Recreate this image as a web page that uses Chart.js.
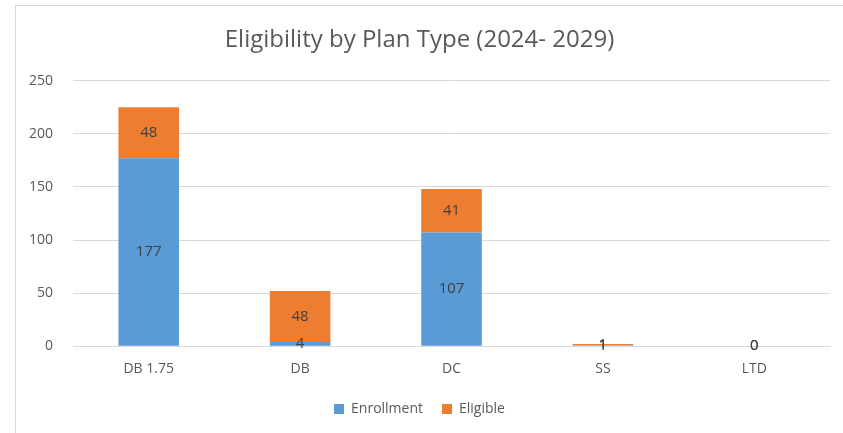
<!DOCTYPE html>
<html>
<head>
<meta charset="utf-8">
<script src="https://cdn.jsdelivr.net/npm/chart.js@4"></script>
<style>
  html, body { margin: 0; padding: 0; background: #fff; }
  #frame {
    position: absolute; left: 15px; top: 5px; width: 840px; height: 440px;
    border: 1px solid #d9d9d9; box-sizing: border-box;
  }
  #wrap { position: absolute; left: 0; top: 0; width: 843px; height: 433px; }
</style>
</head>
<body>
<div id="frame"></div>
<div id="wrap"><canvas id="chart"></canvas></div>
<script>
// Datos del gráfico
const categorias = ['DB 1.75', 'DB', 'DC', 'SS', 'LTD'];
const enrollment = [177, 4, 107, 1, 0];
const eligible = [48, 48, 41, 1, 0];

// etiquetas en el centro de cada segmento
const etiquetasPlugin = {
    id: 'etiquetas',
    afterDatasetsDraw(chart) {
        const ctx = chart.ctx;
        ctx.save();
        ctx.fillStyle = '#404040';
        ctx.font = '15px "Open Sans", sans-serif';
        ctx.textAlign = 'center';
        ctx.textBaseline = 'middle';
        chart.data.datasets.forEach((ds, i) => {
            const meta = chart.getDatasetMeta(i);
            meta.data.forEach((bar, j) => {
                const y = (bar.y + bar.base) / 2;
                ctx.fillText(String(ds.data[j]), bar.x, y);
            });
        });
        ctx.restore();
    }
};

const ctx = document.getElementById('chart').getContext('2d');
new Chart(ctx, {
    type: 'bar',
    data: {
        labels: categorias,
        datasets: [
            {
                label: 'Enrollment',
                data: enrollment,
                backgroundColor: '#5B9BD5',
                categoryPercentage: 1,
                barPercentage: 0.4
            },
            {
                label: 'Eligible',
                data: eligible,
                backgroundColor: '#ED7D31',
                categoryPercentage: 1,
                barPercentage: 0.4
            }
        ]
    },
    options: {
        responsive: true,
        maintainAspectRatio: false,
        animation: false,
        layout: { padding: { left: 9, right: 13, top: 14, bottom: 7 } },
        plugins: {
            title: {
                display: true,
                text: 'Eligibility by Plan Type (2024- 2029)',
                color: '#595959',
                font: { family: '"Open Sans", sans-serif', size: 24, weight: 'normal' },
                padding: { top: 12, bottom: 26 }
            },
            legend: {
                position: 'bottom',
                labels: {
                    color: '#595959',
                    font: { family: '"Open Sans", sans-serif', size: 14 },
                    boxWidth: 10,
                    boxHeight: 10,
                    padding: 19
                }
            },
            tooltip: { enabled: false }
        },
        scales: {
            x: {
                stacked: true,
                grid: { display: false },
                border: { color: '#d9d9d9' },
                ticks: {
                    color: '#595959',
                    font: { family: '"Open Sans", sans-serif', size: 14 },
                    padding: 6
                }
            },
            y: {
                stacked: true,
                min: 0,
                max: 250,
                grid: { color: '#d9d9d9', drawTicks: false },
                border: { display: false },
                ticks: {
                    stepSize: 50,
                    color: '#595959',
                    font: { family: '"Open Sans", sans-serif', size: 14 },
                    padding: 20
                }
            }
        }
    },
    plugins: [etiquetasPlugin]
});
</script>
</body>
</html>
